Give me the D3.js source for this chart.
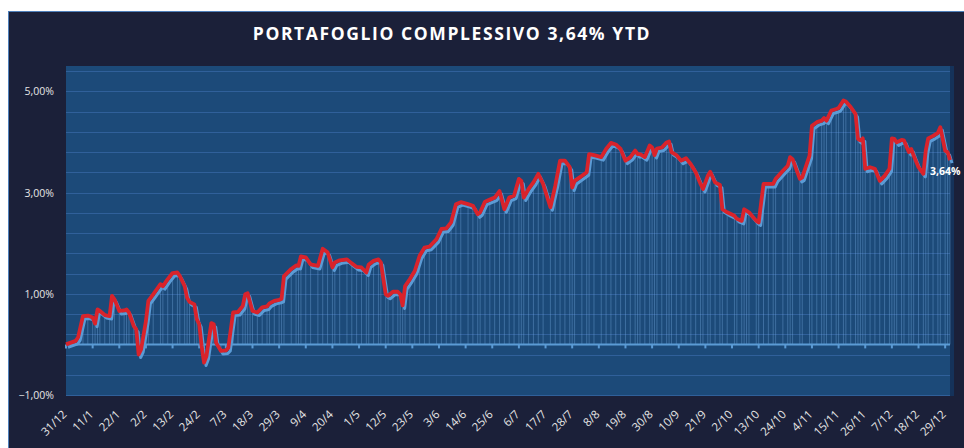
<!DOCTYPE html>
<html>
<head>
<meta charset="utf-8">
<script src="https://cdn.jsdelivr.net/npm/d3@7"></script>
<style>
  html, body { margin: 0; padding: 0; background: #fff; }
  svg { display: block; }
</style>
</head>
<body>
<div class="chart"></div>
<script>
let title = "PORTAFOGLIO COMPLESSIVO 3,64% YTD"

let dates = [
  "2016-12-31", "2017-01-04", "2017-01-05", "2017-01-07", "2017-01-09", "2017-01-11", "2017-01-12", "2017-01-13",
  "2017-01-14", "2017-01-16", "2017-01-18", "2017-01-19", "2017-01-20", "2017-01-22", "2017-01-24", "2017-01-25",
  "2017-01-26", "2017-01-28", "2017-01-29", "2017-01-30", "2017-01-31", "2017-02-02", "2017-02-03", "2017-02-05",
  "2017-02-08", "2017-02-09", "2017-02-11", "2017-02-13", "2017-02-15", "2017-02-16", "2017-02-18", "2017-02-19",
  "2017-02-20", "2017-02-22", "2017-02-23", "2017-02-24", "2017-02-25", "2017-02-26", "2017-02-27", "2017-03-01",
  "2017-03-02", "2017-03-03", "2017-03-05", "2017-03-07", "2017-03-08", "2017-03-10", "2017-03-12", "2017-03-14",
  "2017-03-15", "2017-03-16", "2017-03-17", "2017-03-18", "2017-03-20", "2017-03-22", "2017-03-24", "2017-03-25",
  "2017-03-27", "2017-03-29", "2017-03-30", "2017-03-31", "2017-04-03", "2017-04-05", "2017-04-06", "2017-04-07",
  "2017-04-09", "2017-04-11", "2017-04-14", "2017-04-16", "2017-04-18", "2017-04-20", "2017-04-21", "2017-04-23",
  "2017-04-26", "2017-04-28", "2017-04-30", "2017-05-02", "2017-05-04", "2017-05-05", "2017-05-07", "2017-05-09",
  "2017-05-10", "2017-05-12", "2017-05-13", "2017-05-15", "2017-05-17", "2017-05-18", "2017-05-19", "2017-05-20",
  "2017-05-22", "2017-05-24", "2017-05-26", "2017-05-28", "2017-05-30", "2017-06-02", "2017-06-04", "2017-06-06",
  "2017-06-08", "2017-06-10", "2017-06-12", "2017-06-15", "2017-06-17", "2017-06-19", "2017-06-20", "2017-06-22",
  "2017-06-24", "2017-06-26", "2017-06-28", "2017-06-30", "2017-07-02", "2017-07-04", "2017-07-06", "2017-07-07",
  "2017-07-08", "2017-07-10", "2017-07-12", "2017-07-14", "2017-07-16", "2017-07-19", "2017-07-21", "2017-07-23",
  "2017-07-25", "2017-07-27", "2017-07-28", "2017-07-29", "2017-08-01", "2017-08-03", "2017-08-04", "2017-08-06",
  "2017-08-09", "2017-08-11", "2017-08-13", "2017-08-15", "2017-08-17", "2017-08-19", "2017-08-21", "2017-08-23",
  "2017-08-24", "2017-08-25", "2017-08-27", "2017-08-29", "2017-08-30", "2017-08-31", "2017-09-01", "2017-09-03",
  "2017-09-05", "2017-09-06", "2017-09-07", "2017-09-09", "2017-09-11", "2017-09-13", "2017-09-15", "2017-09-17",
  "2017-09-19", "2017-09-20", "2017-09-22", "2017-09-23", "2017-09-25", "2017-09-27", "2017-09-28", "2017-09-30",
  "2017-10-03", "2017-10-04", "2017-10-06", "2017-10-07", "2017-10-08", "2017-10-09", "2017-10-12", "2017-10-13",
  "2017-10-15", "2017-10-17", "2017-10-19", "2017-10-20", "2017-10-23", "2017-10-25", "2017-10-26", "2017-10-27",
  "2017-10-30", "2017-10-31", "2017-11-03", "2017-11-04", "2017-11-06", "2017-11-08", "2017-11-09", "2017-11-10",
  "2017-11-12", "2017-11-14", "2017-11-15", "2017-11-17", "2017-11-18", "2017-11-20", "2017-11-22", "2017-11-23",
  "2017-11-24", "2017-11-25", "2017-11-26", "2017-11-28", "2017-11-30", "2017-12-02", "2017-12-04", "2017-12-06",
  "2017-12-07", "2017-12-08", "2017-12-09", "2017-12-11", "2017-12-12", "2017-12-14", "2017-12-15", "2017-12-16",
  "2017-12-18", "2017-12-20", "2017-12-21", "2017-12-22", "2017-12-24", "2017-12-26", "2017-12-27", "2017-12-29",
  "2017-12-30", "2017-12-31"
]

let values = [
  0.00, 0.07, 0.14, 0.56, 0.57, 0.53, 0.41, 0.69,
  0.66, 0.58, 0.56, 0.96, 0.89, 0.66, 0.67, 0.69,
  0.63, 0.36, 0.30, -0.20, -0.10, 0.46, 0.86, 0.99,
  1.19, 1.15, 1.29, 1.41, 1.42, 1.35, 1.15, 0.92,
  0.84, 0.79, 0.50, 0.40, -0.03, -0.36, -0.23, 0.42,
  0.40, 0.03, -0.13, -0.12, -0.07, 0.63, 0.64, 0.76,
  0.99, 1.01, 0.83, 0.66, 0.63, 0.73, 0.75, 0.81,
  0.86, 0.88, 0.90, 1.35, 1.49, 1.56, 1.55, 1.74,
  1.72, 1.58, 1.55, 1.89, 1.82, 1.52, 1.62, 1.66,
  1.68, 1.60, 1.53, 1.52, 1.42, 1.58, 1.65, 1.68,
  1.62, 0.99, 0.96, 1.04, 1.04, 0.99, 0.77, 1.15,
  1.29, 1.45, 1.75, 1.91, 1.93, 2.08, 2.28, 2.29,
  2.41, 2.77, 2.81, 2.77, 2.74, 2.57, 2.61, 2.82,
  2.86, 2.90, 3.03, 2.67, 2.90, 2.94, 3.27, 3.23,
  2.90, 3.07, 3.20, 3.37, 3.17, 2.71, 3.13, 3.63,
  3.63, 3.50, 3.10, 3.23, 3.33, 3.40, 3.76, 3.74,
  3.70, 3.86, 3.98, 3.95, 3.86, 3.63, 3.70, 3.83,
  3.76, 3.76, 3.70, 3.93, 3.89, 3.74, 3.87, 3.89,
  3.99, 4.01, 3.80, 3.74, 3.63, 3.68, 3.56, 3.40,
  3.17, 3.07, 3.33, 3.41, 3.20, 3.15, 2.67, 2.61,
  2.54, 2.48, 2.44, 2.67, 2.64, 2.61, 2.44, 2.41,
  3.17, 3.17, 3.17, 3.27, 3.43, 3.53, 3.70, 3.66,
  3.27, 3.30, 3.73, 4.32, 4.39, 4.42, 4.47, 4.42,
  4.62, 4.65, 4.67, 4.82, 4.80, 4.69, 4.55, 4.06,
  4.03, 4.07, 3.47, 3.50, 3.47, 3.23, 3.33, 3.47,
  4.07, 4.06, 3.99, 4.04, 4.03, 3.80, 3.86, 3.73,
  3.50, 3.37, 3.83, 4.07, 4.12, 4.18, 4.29, 3.83,
  3.80, 3.64
]

let xTickLabels = ["31/12", "11/1", "22/1", "2/2", "13/2", "24/2", "7/3", "18/3", "29/3", "9/4", "20/4", "1/5",
  "12/5", "23/5", "3/6", "14/6", "25/6", "6/7", "17/7", "28/7", "8/8", "19/8", "30/8", "10/9", "21/9", "2/10",
  "13/10", "24/10", "4/11", "15/11", "26/11", "7/12", "18/12", "29/12"]
let yTicks = [-1, 1, 3, 5]
let yDomain = [-1, 5.5]
let xDomain = ["2016-12-31", "2017-12-31"]

let width = 964,
    height = 448,
    margin = { top: 66, right: 14, bottom: 53, left: 66 }

let parseDate = d3.timeParse("%Y-%m-%d")
let parseTick = d3.timeParse("%d/%m/%Y")
let it = d3.formatLocale({ decimal: ",", thousands: ".", grouping: [3], currency: ["", "€"] })
let pct = it.format(".2f")

let series = dates.map((d, i) => ({ date: parseDate(d), value: values[i] }))
let tickDates = xTickLabels.map((d, i) => parseTick(`${d}/${i === 0 ? 2016 : 2017}`))

let svg = d3.select(".chart")
    .append("svg")
    .attr("width", width)
    .attr("height", height)

let x = d3.scaleTime()
    .domain(xDomain.map(parseDate))
    .range([margin.left, width - margin.right])
let y = d3.scaleLinear()
    .domain(yDomain)
    .range([height - margin.bottom, margin.top])

//外框
svg.append("rect")
    .attr("x", 8.5)
    .attr("y", 11.5)
    .attr("width", width)
    .attr("height", height)
    .attr("fill", "#1b2039")
    .attr("stroke", "#4f80bb")
    .attr("stroke-width", 1)

svg.append("text")
    .attr("x", 452)
    .attr("y", 40)
    .attr("text-anchor", "middle")
    .attr("font-family", "Open Sans")
    .attr("font-weight", "bold")
    .attr("font-size", 17.5)
    .attr("letter-spacing", 1.6)
    .attr("fill", "#ffffff")
    .text(title)

//绘图区
let x0 = x.range()[0], x1 = x.range()[1]
svg.append("rect")
    .attr("x", x1)
    .attr("y", y(yDomain[1]))
    .attr("width", 4)
    .attr("height", y(yDomain[0]) - y(yDomain[1]) + 1)
    .attr("fill", "#15325a")
svg.append("rect")
    .attr("x", x0)
    .attr("y", y(yDomain[1]))
    .attr("width", x1 - x0)
    .attr("height", y(yDomain[0]) - y(yDomain[1]))
    .attr("fill", "#1c4a79")

let grid = d3.range(yDomain[0], yDomain[1], 0.4)
svg.append("g")
    .selectAll("line")
    .data(grid)
    .enter()
    .append("line")
    .attr("x1", x0)
    .attr("x2", x1)
    .attr("y1", d => Math.round(y(d)) + 0.5)
    .attr("y2", d => Math.round(y(d)) + 0.5)
    .attr("stroke", "#30609a")
    .attr("stroke-width", 1)

//垂直线
svg.append("g")
    .selectAll("line")
    .data(series)
    .enter()
    .append("line")
    .attr("x1", d => x(d.date))
    .attr("x2", d => x(d.date))
    .attr("y1", y(0))
    .attr("y2", d => y(d.value))
    .attr("stroke", "#7db3e8")
    .attr("stroke-width", 1)
    .attr("opacity", 0.35)

//零轴
svg.append("line")
    .attr("x1", x0)
    .attr("x2", x1)
    .attr("y1", y(0))
    .attr("y2", y(0))
    .attr("stroke", "#5b9bd5")
    .attr("stroke-width", 2)
svg.append("g")
    .selectAll("line")
    .data(tickDates)
    .enter()
    .append("line")
    .attr("x1", d => x(d))
    .attr("x2", d => x(d))
    .attr("y1", y(0))
    .attr("y2", y(0) + 4)
    .attr("stroke", "#5b9bd5")
    .attr("stroke-width", 2)

let line = d3.line()
    .x(d => x(d.date))
    .y(d => y(d.value))

svg.append("path")
    .datum(series)
    .attr("transform", "translate(2,3)")
    .attr("fill", "none")
    .attr("stroke", "#5b9bd5")
    .attr("stroke-width", 3)
    .attr("stroke-linejoin", "round")
    .attr("d", line)
svg.append("path")
    .datum(series)
    .attr("fill", "none")
    .attr("stroke", "#d9232b")
    .attr("stroke-width", 3.8)
    .attr("stroke-linejoin", "round")
    .attr("d", line)

let last = series[series.length - 1]
svg.append("text")
    .attr("x", x(last.date) - 20)
    .attr("y", y(last.value) + 15)
    .attr("font-family", "Open Sans")
    .attr("font-weight", "bold")
    .attr("font-size", 10.5)
    .attr("fill", "#ffffff")
    .text(pct(last.value) + "%")

//坐标轴标签
svg.append("g")
    .selectAll("text")
    .data(yTicks)
    .enter()
    .append("text")
    .attr("x", 54)
    .attr("y", d => y(d) + 4)
    .attr("text-anchor", "end")
    .attr("font-family", "Open Sans")
    .attr("font-size", 10.5)
    .attr("fill", "#e6e6e6")
    .text(d => pct(d) + "%")

svg.append("g")
    .selectAll("text")
    .data(tickDates)
    .enter()
    .append("text")
    .attr("text-anchor", "end")
    .attr("transform", d => `translate(${x(d) + 1.5},${y(yDomain[0]) + 20}) rotate(-45)`)
    .attr("font-family", "Open Sans")
    .attr("font-size", 11.5)
    .attr("fill", "#e6e6e6")
    .text((d, i) => xTickLabels[i])
</script>
</body>
</html>
